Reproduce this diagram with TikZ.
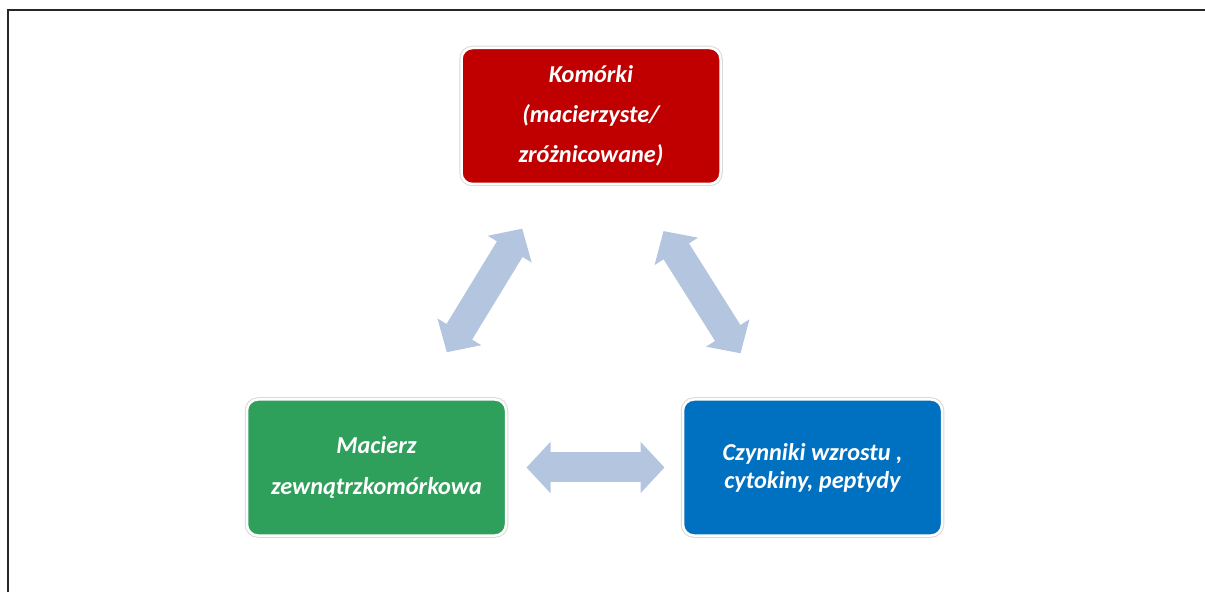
\documentclass[tikz,border=0pt]{standalone}
\usepackage{fontspec}
\setmainfont{Carlito}
\usetikzlibrary{arrows.meta}

\definecolor{cellred}{HTML}{C00000}
\definecolor{matrixgreen}{HTML}{2FA05B}
\definecolor{factorblue}{HTML}{0070C0}
\definecolor{linkblue}{HTML}{B4C5E0}

\tikzset{
    box/.style={rounded corners=11pt, minimum width=259pt, minimum height=136pt,
        align=center, text=white, draw=white, line width=2.5pt,
        preaction={draw=black!15, line width=4.5pt}},
    link/.style={draw=linkblue, line width=30pt,
        {Triangle[length=24pt,width=50pt]}-{Triangle[length=24pt,width=50pt]}}
}

\begin{document}
\begin{tikzpicture}[x=1pt,y=1pt]

\useasboundingbox (0,0) rectangle (1205,592);

% Frame
\draw[line width=1.3pt, black!85] (8,0) -- (8,582) -- (1205,582);

% Boxes
\node[box, fill=cellred, font=\fontsize{24.3}{40}\selectfont\bfseries\itshape]
    (komorki) at (591,476) {Komórki\\(macierzyste/\\zróżnicowane)};
\node[box, fill=matrixgreen, font=\fontsize{24.3}{41}\selectfont\bfseries\itshape]
    (macierz) at (376.5,124.5) {Macierz\\zewnątrzkomórkowa};
\node[box, fill=factorblue, font=\fontsize{24.3}{28}\selectfont\bfseries\itshape]
    (czynniki) at (812.5,124.5) {Czynniki wzrostu ,\\cytokiny, peptydy};

% Links
\draw[link, shorten <=132pt, shorten >=135pt] (komorki.center) -- (macierz.center);
\draw[link, shorten <=136pt, shorten >=135pt] (komorki.center) -- (czynniki.center);
\draw[link, shorten <=150pt, shorten >=148pt] (macierz.center) -- (czynniki.center);

\end{tikzpicture}
\end{document}
